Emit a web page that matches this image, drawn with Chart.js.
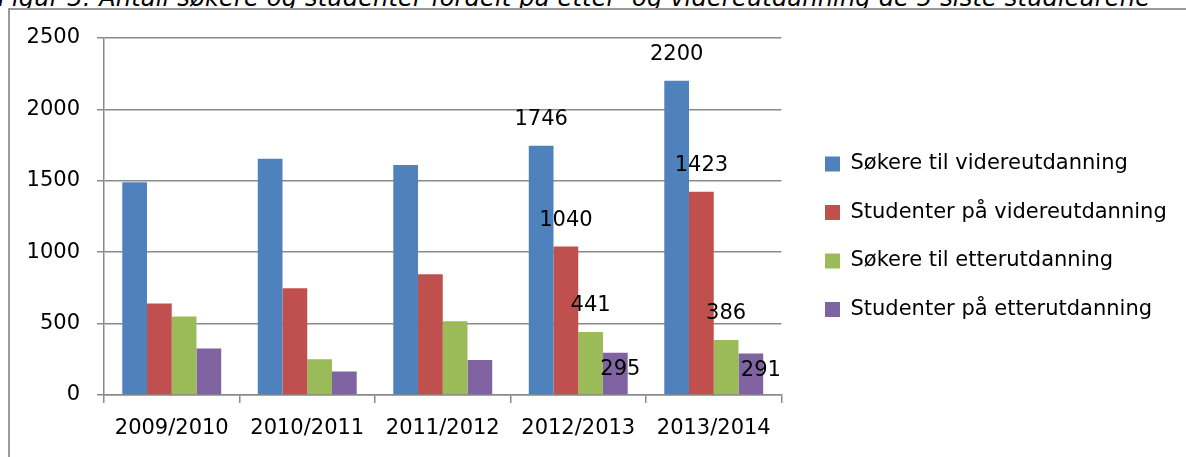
<!DOCTYPE html>
<html>
<head>
<meta charset="utf-8">
<script src="https://cdn.jsdelivr.net/npm/chart.js@4/dist/chart.umd.min.js"></script>
<style>
  html, body { margin: 0; padding: 0; background: #fff; }
  body { width: 1186px; height: 457px; position: relative; overflow: hidden; }
  #caption {
    position: absolute; left: -2px; top: -14px; white-space: nowrap; letter-spacing: 0.2px;
    font: italic 24px 'DejaVu Sans', sans-serif; line-height: 24px; color: #000;
  }
  #frame {
    position: absolute; left: 8px; top: 8px; width: 1300px; height: 600px;
    border-left: 2px solid #9a9a9a; border-top: 2px solid #9a9a9a; background: #fff;
  }
  #wrap { position: absolute; left: 0; top: 0; width: 1186px; height: 457px; }
</style>
</head>
<body>
<div id="caption">Figur 3: Antall søkere og studenter fordelt på etter- og videreutdanning de 5 siste studieårene</div>
<div id="frame"></div>
<div id="wrap"><canvas id="chart"></canvas></div>
<script>
const categories = ['2009/2010', '2010/2011', '2011/2012', '2012/2013', '2013/2014']
const sokereVidere = [1490, 1655, 1610, 1746, 2200]
const studenterVidere = [640, 748, 846, 1040, 1423]
const sokereEtter = [550, 250, 516, 441, 386]
const studenterEtter = [325, 164, 245, 295, 291]
const yTicks = [0, 500, 1000, 1500, 2000, 2500]

// only the last two years carry value labels in the original
const labeledIdx = [3, 4]

const FONT = "'DejaVu Sans', sans-serif"
const FS = 21
const gridCol = '#8a8a8a'

// work out legend width so the plot area ends where the original does
const mctx = document.createElement('canvas').getContext('2d')
mctx.font = FS + 'px ' + FONT
const legendNames = ['Søkere til videreutdanning', 'Studenter på videreutdanning',
  'Søkere til etterutdanning', 'Studenter på etterutdanning']
const widest = Math.max(...legendNames.map((t) => mctx.measureText(t).width))
const legendW = 27 + 15 + FS / 2 + widest + 10
const padRight = 1186 - 782 - 16 - legendW

const valueLabels = {
  id: 'valueLabels',
  afterDatasetsDraw(chart) {
    const ctx = chart.ctx
    ctx.save()
    ctx.font = FS + 'px ' + FONT
    ctx.fillStyle = '#000'
    ctx.textAlign = 'center'
    ctx.textBaseline = 'middle'
    chart.data.datasets.forEach((ds, di) => {
      const meta = chart.getDatasetMeta(di)
      labeledIdx.forEach((i, k) => {
        const bar = meta.data[i]
        let dx = 0, dy = -26
        if (di === 3) { dy = 17; dx = k === 0 ? 5 : 10 }
        ctx.fillText(String(ds.data[i]), bar.x + dx, bar.y + dy)
      })
    })
    ctx.restore()
  },
}

new Chart(document.getElementById('chart'), {
  type: 'bar',
  data: {
    labels: categories,
    datasets: [
      { label: legendNames[0], data: sokereVidere, backgroundColor: '#4f81bd' },
      { label: legendNames[1], data: studenterVidere, backgroundColor: '#c0504d' },
      { label: legendNames[2], data: sokereEtter, backgroundColor: '#9bbb59' },
      { label: legendNames[3], data: studenterEtter, backgroundColor: '#8064a2' },
    ],
  },
  options: {
    responsive: true,
    maintainAspectRatio: false,
    animation: false,
    datasets: { bar: { categoryPercentage: 0.73, barPercentage: 1, borderWidth: 0 } },
    layout: { padding: { top: 38, bottom: 14, left: 0, right: padRight } },
    plugins: {
      tooltip: { enabled: false },
      legend: {
        position: 'right',
        align: 'start',
        maxWidth: 600,
        // empty title used as a spacer so the rows sit where the original has them
        title: { display: true, text: '', font: { size: 10 }, padding: { top: 76, bottom: 0 } },
        labels: {
          boxWidth: 15, boxHeight: 15, padding: 27.5, color: '#000',
          font: { family: FONT, size: FS },
        },
      },
    },
    scales: {
      x: {
        grid: { display: true, drawOnChartArea: false, drawTicks: true, tickLength: 8, color: gridCol, lineWidth: 1.5 },
        border: { display: true, color: gridCol, width: 1.5 },
        ticks: { color: '#000', padding: 13, font: { family: FONT, size: FS }, maxRotation: 0 },
        afterFit(s) { s.height = 48 },
      },
      y: {
        min: 0, max: 2500,
        afterBuildTicks(s) { s.ticks = yTicks.map((v) => ({ value: v })) },
        grid: { color: gridCol, lineWidth: 1.5, tickLength: 7 },
        border: { display: true, color: gridCol, width: 1.5 },
        ticks: { color: '#000', padding: 17, font: { family: FONT, size: FS }, callback: (v) => String(v) },
        afterFit(s) { s.width = 104 },
      },
      gap: {
        type: 'linear', position: 'right', display: true,
        grid: { display: false }, border: { display: false }, ticks: { display: false },
        afterFit(s) { s.width = 16 },
      },
    },
  },
  plugins: [valueLabels],
})
</script>
</body>
</html>
